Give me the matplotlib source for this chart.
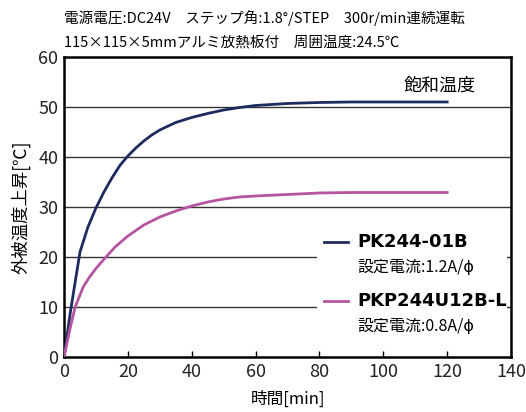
import matplotlib
matplotlib.use("Agg")
import matplotlib.pyplot as plt
from matplotlib.patches import Rectangle
from matplotlib.lines import Line2D

plt.rcParams['font.family'] = ['Noto Sans CJK JP', 'DejaVu Sans']

# 時間[min]
time_pk = [0, 2, 3, 5, 7.5, 10, 12.5, 15, 17.5, 20, 22.5, 25, 27.5, 30, 35, 40, 45,
           50, 55, 60, 65, 70, 80, 90, 100, 110, 120]
temp_pk = [0, 9, 13, 21, 26, 29.8, 33, 35.8, 38.3, 40.2, 41.8, 43.2, 44.4, 45.4, 46.9,
           47.9, 48.7, 49.4, 49.9, 50.3, 50.5, 50.7, 50.9, 51, 51, 51, 51]
time_pkp = [0, 2, 3.5, 6, 8, 10, 13, 16, 20, 25, 30, 35, 40, 45, 50, 55, 60, 70,
            80, 90, 100, 110, 120]
temp_pkp = [0, 6, 10, 14, 16, 17.7, 19.9, 22, 24.2, 26.4, 28, 29.2, 30.2, 31, 31.6,
            32, 32.2, 32.5, 32.8, 32.9, 32.9, 32.9, 32.9]

names = ['PK244-01B', 'PKP244U12B-L']
currents = ['設定電流:1.2A/ϕ', '設定電流:0.8A/ϕ']
colors = ['#1e2b5e', '#b5559f']

title1 = '電源電圧:DC24V\u3000ステップ角:1.8°/STEP\u3000300r/min連続運転'
title2 = '115×115×5mmアルミ放熱板付\u3000周囲温度:24.5℃'

fig = plt.figure(figsize=(5.26, 4.12), dpi=100)
ax = fig.add_axes([0.1217, 0.1335, 0.8498, 0.7282])

for y in [10, 20, 30, 40, 50]:
    ax.axhline(y, color='#333333', lw=1.0, zorder=1)

ax.plot(time_pk, temp_pk, color=colors[0], lw=2.0, zorder=3)
ax.plot(time_pkp, temp_pkp, color=colors[1], lw=2.0, zorder=3)

ax.set_xlim(0, 140)
ax.set_ylim(0, 60)
ax.set_xticks(range(0, 141, 20))
ax.set_yticks(range(0, 61, 10))
ax.tick_params(axis='x', direction='in', length=4, width=1, pad=4)
ax.tick_params(axis='y', length=0, pad=4)
for lab in ax.get_xticklabels() + ax.get_yticklabels():
    lab.set_fontsize(13)
    lab.set_color('#222222')
for s in ax.spines.values():
    s.set_linewidth(1.8)

ax.set_xlabel('時間[min]', fontsize=12, labelpad=7)
ax.set_ylabel('外被温度上昇[℃]', fontsize=12.5, labelpad=6)

ax.text(106.5, 54.2, '飽和温度', fontsize=13, va='center', ha='left', zorder=4)

# legend block
ax.add_patch(Rectangle((0.566, 0.04), 0.425, 0.39, transform=ax.transAxes,
                       facecolor='white', edgecolor='none', zorder=2))
for i, (nm, cur, c) in enumerate(zip(names, currents, colors)):
    yy = 0.383 - i * 0.196
    ax.add_line(Line2D([0.581, 0.635], [yy, yy], transform=ax.transAxes,
                       color=c, lw=2.0, zorder=4))
    ax.text(0.657, yy, nm, transform=ax.transAxes, fontsize=13,
            fontweight='bold', family=['DejaVu Sans'], va='center', zorder=4)
    ax.text(0.657, yy - 0.086, cur, transform=ax.transAxes, fontsize=11.5,
            va='center', zorder=4)

fig.text(0.1217, 0.955, title1, fontsize=10.5, va='center')
fig.text(0.1217, 0.897, title2, fontsize=10.5, va='center')

fig.savefig('out.png', dpi=100)
